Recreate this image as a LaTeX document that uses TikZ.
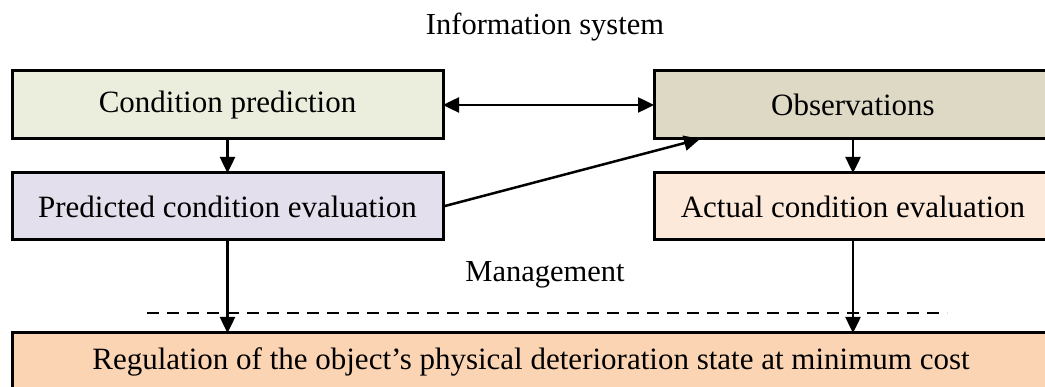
\documentclass[tikz,border=0pt]{standalone}
\usepackage{fontspec}
\setmainfont{Liberation Serif}
\usetikzlibrary{arrows.meta,calc}
\definecolor{cpfill}{HTML}{EBEEDD}
\definecolor{pcfill}{HTML}{E4DFEC}
\definecolor{obfill}{HTML}{DDD9C4}
\definecolor{acfill}{HTML}{FDE9D9}
\definecolor{rgfill}{HTML}{FBD4B4}
\begin{document}
\begin{tikzpicture}[x=1pt,y=-1pt,
  box/.style={draw=black,line width=3pt,inner sep=0pt,outer sep=0pt,
    font=\fontsize{31}{36}\selectfont},
  lbl/.style={inner sep=0pt,font=\fontsize{30.5}{36}\selectfont},
  conn/.style={line width=2.5pt,-{Triangle[length=16pt,width=15pt]}},
  dconn/.style={line width=2.5pt,{Triangle[length=16pt,width=15pt]}-{Triangle[length=16pt,width=15pt]}}]
\clip (0,0) rectangle (1045,387);
\fill[white] (0,0) rectangle (1045,387);
\node[lbl] (title) at (545,27) {Information system};
\node[box,fill=cpfill,minimum width=431,minimum height=68] (cp) at (227.5,105) {Condition prediction};
\node[box,fill=pcfill,minimum width=431,minimum height=67] (pc) at (227.5,206.5) {Predicted condition evaluation};
\node[box,fill=obfill,minimum width=398,minimum height=68] (ob) at (853,105) {Observations};
\node[box,fill=acfill,minimum width=398,minimum height=67] (ac) at (853,206.5) {Actual condition evaluation};
\node[lbl] (mg) at (545,275) {Management};
\node[box,fill=rgfill,minimum width=1038,minimum height=58] (rg) at (531,362) {Regulation of the object’s physical deterioration state at minimum cost};
\coordinate (dl) at (147,313);
\coordinate (dr) at (947,313);
\draw[line width=2.8pt,dash pattern=on 12pt off 8pt] (dl) -- (dr);
\draw[dconn] (cp.east) -- (ob.west);
\draw[conn] (cp.south) -- (pc.north);
\draw[conn] (ob.south) -- (ac.north);
\draw[conn] (pc.east) -- ($(ob.south west)+(46,0)$);
\draw[conn] (pc.south) -- (pc.south |- rg.north);
\draw[conn] (ac.south) -- (ac.south |- rg.north);
\end{tikzpicture}
\end{document}
